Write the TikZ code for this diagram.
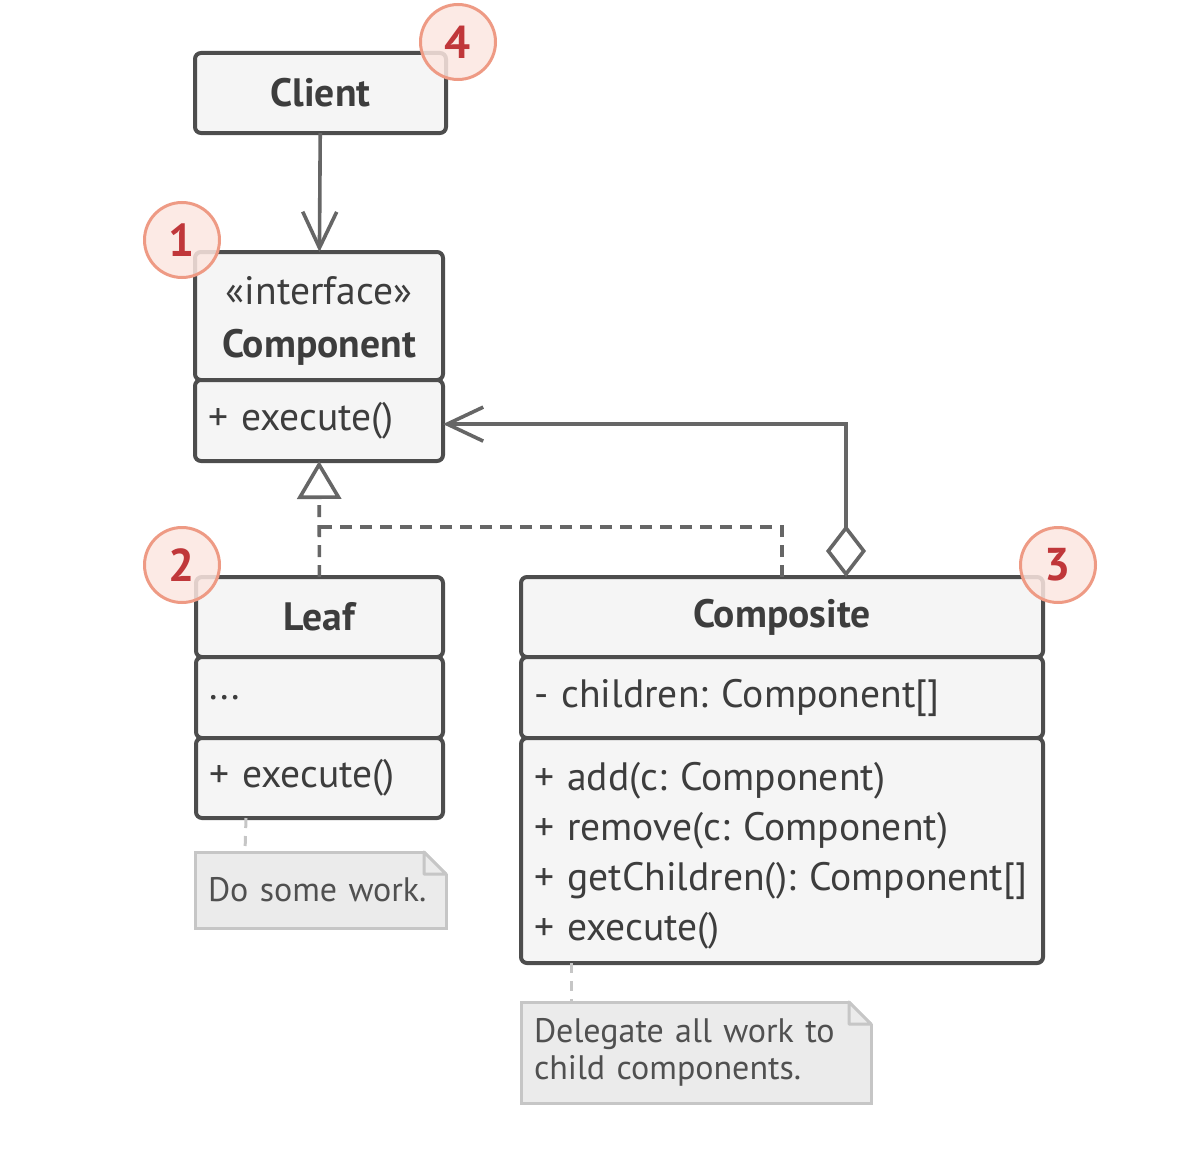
\documentclass[tikz,border=0pt]{standalone}
\usepackage{fontspec}
\setmainfont{PT Sans}
\usetikzlibrary{positioning,arrows.meta}
\frenchspacing

\definecolor{boxline}{HTML}{4D4D4D}
\definecolor{boxfill}{HTML}{F5F5F5}
\definecolor{ink}{HTML}{3D3D3D}
\definecolor{linkline}{HTML}{666666}
\definecolor{notefill}{HTML}{EBEBEB}
\definecolor{noteline}{HTML}{C6C6C6}
\definecolor{noteink}{HTML}{505050}
\definecolor{badgeline}{HTML}{EE9A84}
\definecolor{badgefill}{HTML}{FBE6E0}
\definecolor{badgeink}{HTML}{C0373A}

\tikzset{
	compart/.style={draw=boxline, fill=boxfill, line width=2pt, rounded corners=3pt,
		anchor=north west, inner xsep=6.5pt, inner ysep=0pt, outer sep=0pt, text=ink,
		font=\fontsize{19.8}{25}\selectfont},
	headcompart/.style={compart, font=\fontsize{19.8}{25}\selectfont\bfseries},
	listcompart/.style={compart, text width=#1, align=left},
	badge/.style={circle, draw=badgeline, fill=badgefill, fill opacity=0.85, text opacity=1,
		line width=1.5pt, minimum size=37.5pt, inner sep=0pt, text=badgeink,
		font=\fontsize{23}{23}\selectfont\bfseries},
	note/.style={draw=noteline, fill=notefill, line width=1.5pt, anchor=north west,
		inner xsep=6.5pt, inner ysep=0pt, outer sep=0pt, text=noteink, align=left,
		font=\fontsize{17}{18.5}\selectfont},
	notefold/.style={draw=noteline, fill=notefill, line width=1.5pt, line join=round},
	link/.style={draw=linkline, line width=1.8pt},
	openhead/.style={-{Straight Barb[length=18pt,width=17pt]}},
	realize/.style={link, dash pattern=on 6pt off 4pt},
	notelink/.style={draw=noteline, line width=1.5pt, dash pattern=on 5pt off 4pt}
}

\begin{document}
\begin{tikzpicture}[x=0.5pt,y=-0.5pt]
	\useasboundingbox (0,0) rectangle (1192,1156);
	%% client
	\node[headcompart, minimum width=125.5pt, minimum height=40pt] (client) at (195,53) {Client};
	%% component interface
	\node[compart, text width=111pt, minimum height=64pt, align=center, text height=19pt,
		font=\fontsize{19.8}{26.5}\selectfont] (ifacehead) at (195,252)
		{«interface»\\\textbf{Component}};
	\node[listcompart=111pt, minimum height=40.5pt, below=0pt of ifacehead] (ifaceops) {+ execute()};
	%% leaf
	\node[headcompart, minimum width=123.5pt, minimum height=40pt] (leafhead) at (196,577) {Leaf};
	\node[listcompart=110.5pt, minimum height=40.5pt, below=0pt of leafhead] (leafattr) {...};
	\node[listcompart=110.5pt, minimum height=40pt, below=0pt of leafattr] (leafops) {+ execute()};
	%% composite
	\node[headcompart, minimum width=261pt, minimum height=40pt] (comphead) at (521,577) {Composite};
	\node[listcompart=248pt, minimum height=40.5pt, below=0pt of comphead] (compattr) {- children: Component[]};
	\node[listcompart=248pt, minimum height=112.5pt, text height=19.5pt, below=0pt of compattr] (compops)
		{+ add(c: Component)\\+ remove(c: Component)\\+ getChildren(): Component[]\\+ execute()};

	% 连线
	\draw[link, openhead] (client) -- (ifacehead);
	\draw[realize, -{Triangle[open,length=19pt,width=22pt,fill=white]}] (leafhead) -- (ifaceops);
	\draw[realize] (comphead) |- ([yshift=25pt]leafhead.north);
	\draw[link, {Diamond[open,length=26pt,width=20pt,fill=white]}-{Straight Barb[length=18pt,width=17pt]}]
		([xshift=32pt]comphead.north) |- ([yshift=-1.8pt]ifaceops.east);

	%% notes
	\node[note, text width=112.5pt, minimum height=38pt] (leafnote) at (195,852) {Do some work.};
	\node[note, text width=162pt, minimum height=50.5pt] (compnote) at (521,1002)
		{Delegate all work to\\child components.};
	\foreach \n in {leafnote,compnote}{
		\fill[white] ([xshift=-11pt,yshift=1pt]\n.north east) -- ([xshift=1pt,yshift=1pt]\n.north east)
			-- ([xshift=1pt,yshift=-11pt]\n.north east) -- cycle;
		\draw[notefold] ([xshift=-11pt]\n.north east) |- ([yshift=-11pt]\n.north east) -- cycle;
	}
	\draw[notelink] ([xshift=25pt]leafops.south west) -- ([xshift=25pt]leafnote.north west);
	\draw[notelink] ([xshift=25pt]compops.south west) -- ([xshift=25pt]compnote.north west);

	%% badges
	\node[badge] (b4) at ([shift={(6pt,5.5pt)}]client.north east) {4};
	\node[badge] (b1) at ([shift={(-6.5pt,6pt)}]ifacehead.north west) {1};
	\node[badge] (b2) at ([shift={(-7pt,6pt)}]leafhead.north west) {2};
	\node[badge] (b3) at ([shift={(7.5pt,6pt)}]comphead.north east) {3};
\end{tikzpicture}
\end{document}
